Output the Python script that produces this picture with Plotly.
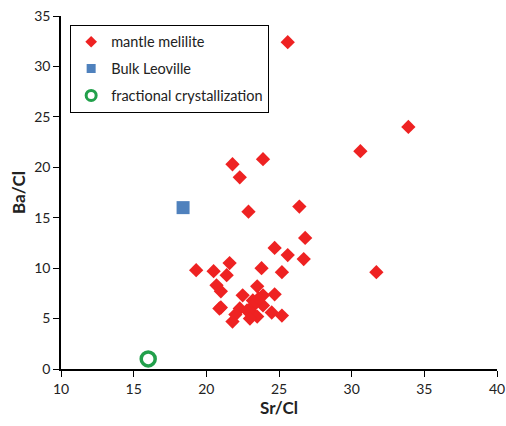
import plotly.graph_objects as go

# mantle melilite data (Sr/Cl, Ba/Cl)
mel_sr = [25.6, 33.9, 30.6, 26.4, 26.8, 25.6, 26.7, 31.7, 25.2,
          21.8, 23.9, 22.3, 22.9,
          19.3, 20.5, 21.6, 21.4, 20.7, 21.0, 23.8, 24.7,
          20.9, 23.5, 22.5, 23.9, 24.7, 23.2, 21.0, 23.1, 22.3, 23.9,
          22.0, 23.2, 24.5, 25.2, 21.8, 23.5, 22.8, 23.4, 23.0, 23.6]
mel_ba = [32.4, 24.0, 21.6, 16.1, 13.0, 11.3, 10.9, 9.6, 9.6,
          20.3, 20.8, 19.0, 15.6,
          9.8, 9.7, 10.5, 9.3, 8.3, 7.7, 10.0, 12.0,
          6.0, 8.2, 7.3, 7.3, 7.4, 6.8, 6.1, 6.1, 6.0, 6.3,
          5.4, 5.5, 5.6, 5.3, 4.7, 5.2, 5.8, 6.6, 5.0, 7.0]

bulk_sr = [18.4]
bulk_ba = [16.0]

frac_sr = [16.0]
frac_ba = [1.0]

x_ticks = [10, 15, 20, 25, 30, 35, 40]
y_ticks = [0, 5, 10, 15, 20, 25, 30, 35]

RED, BLUE, GREEN = "#EE2222", "#4F81BD", "#22A04B"

fig = go.Figure()
fig.add_trace(go.Scatter(x=mel_sr, y=mel_ba, mode="markers", name="mantle melilite",
                         showlegend=False,
                         marker=dict(symbol="diamond", size=11, color=RED, line=dict(width=0))))
fig.add_trace(go.Scatter(x=bulk_sr, y=bulk_ba, mode="markers", name="Bulk Leoville",
                         showlegend=False,
                         marker=dict(symbol="square", size=13, color=BLUE, line=dict(width=0))))
fig.add_trace(go.Scatter(x=frac_sr, y=frac_ba, mode="markers", name="fractional crystallization",
                         showlegend=False,
                         marker=dict(symbol="circle-open", size=14, color=GREEN,
                                     line=dict(width=3.5, color=GREEN))))

# legend entries with smaller symbols
fig.add_trace(go.Scatter(x=[None], y=[None], mode="markers", name="mantle melilite",
                         legendgroup="a",
                         marker=dict(symbol="diamond", size=9, color=RED, line=dict(width=0))))
fig.add_trace(go.Scatter(x=[None], y=[None], mode="markers", name="Bulk Leoville",
                         legendgroup="b",
                         marker=dict(symbol="square", size=9, color=BLUE, line=dict(width=0))))
fig.add_trace(go.Scatter(x=[None], y=[None], mode="markers", name="fractional crystallization",
                         legendgroup="c",
                         marker=dict(symbol="circle-open", size=10, color=GREEN,
                                     line=dict(width=3, color=GREEN))))

fig.update_layout(
    width=506, height=426,
    margin=dict(l=61, r=9, t=16, b=57),
    paper_bgcolor="white", plot_bgcolor="white",
    font=dict(family="Lato, Open Sans, sans-serif", size=14, color="#222"),
    showlegend=True,
    legend=dict(x=0.021, y=0.975, xanchor="left", yanchor="top",
                bordercolor="black", borderwidth=1, bgcolor="white",
                font=dict(size=14.5, color="#222"), itemwidth=30,
                tracegroupgap=5, itemsizing="trace"),
    xaxis=dict(range=[10, 40], tickvals=x_ticks, ticktext=[str(v) for v in x_ticks],
               showgrid=False, zeroline=False, showline=True, linecolor="black",
               linewidth=1.5, ticks="outside", ticklen=6, tickcolor="black",
               automargin=False,
               title=dict(text="<b>Sr/Cl</b>", font=dict(size=17), standoff=4)),
    yaxis=dict(range=[0, 35], tickvals=y_ticks, ticktext=[str(v) for v in y_ticks],
               showgrid=False, zeroline=False, showline=True, linecolor="black",
               linewidth=1.5, ticks="outside", ticklen=6, tickcolor="black",
               automargin=False,
               title=dict(text="<b>Ba/Cl</b>", font=dict(size=17), standoff=4)),
)

fig.write_html("out.html")
